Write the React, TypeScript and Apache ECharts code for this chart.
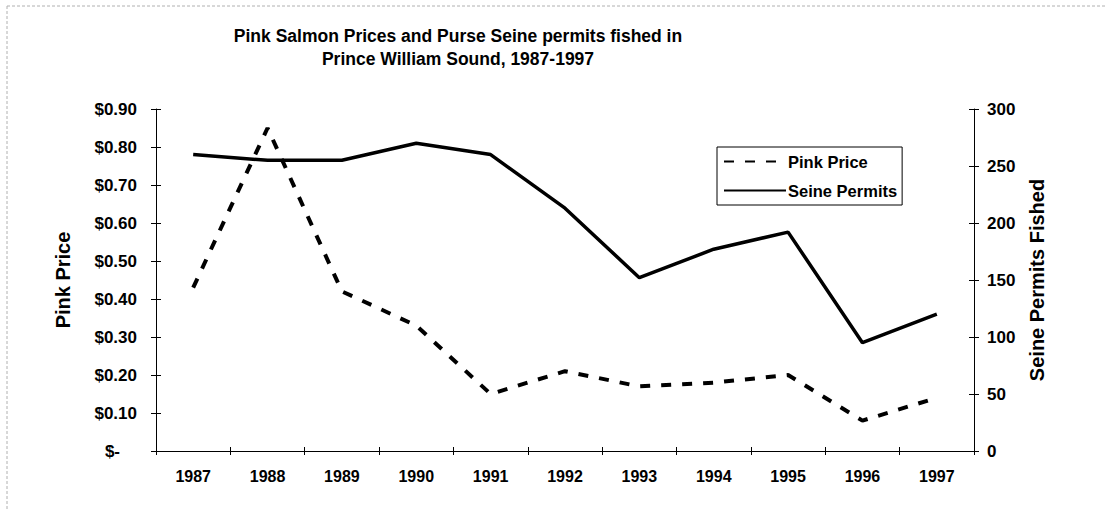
import React, { useEffect, useRef } from "react";
import * as echarts from "echarts";

const years = ["1987", "1988", "1989", "1990", "1991", "1992", "1993", "1994", "1995", "1996", "1997"];
const pinkPrice = [0.43, 0.85, 0.42, 0.33, 0.15, 0.21, 0.17, 0.18, 0.2, 0.08, 0.14];
const seinePermits = [260, 255, 255, 270, 260, 213, 152, 177, 192, 95, 120];
const titleLines = ["Pink Salmon Prices and Purse Seine permits fished in", "Prince William Sound, 1987-1997"];
const priceAxis = { min: 0, max: 0.9, interval: 0.1 };
const permitAxis = { min: 0, max: 300, interval: 50 };

const FONT = "'Liberation Sans', Arial, sans-serif";

export default function App() {
  const ref = useRef<HTMLDivElement>(null);
  useEffect(() => {
    if (!ref.current) return;
    const chart = echarts.init(ref.current, undefined, { renderer: "svg" });
    const xLabelStyle = { fontFamily: FONT, fontSize: 16, fontWeight: "bold" as const, color: "#000" };
    const yLabelStyle = { fontFamily: FONT, fontSize: 17, fontWeight: "bold" as const, color: "#000" };
    const hiddenCommon = {
      axisLine: { show: false },
      axisLabel: { show: false },
      splitLine: { show: false },
      name: "",
    };
    chart.setOption({
      animation: false,
      backgroundColor: "#fff",
      grid: { left: 156, right: 133, top: 109, bottom: 59, containLabel: false },
      graphic: [
        {
          type: "text",
          x: 458,
          y: 24,
          style: {
            text: titleLines.join("\n"),
            font: `bold 17.5px ${FONT}`,
            fill: "#000",
            textAlign: "center",
            textVerticalAlign: "top",
            lineHeight: 23,
          },
        },
        {
          type: "line",
          shape: { x1: 7, y1: 6, x2: 1107, y2: 6 },
          style: { stroke: "#b0b0b0", lineWidth: 1, lineDash: [3, 2] },
        },
        {
          type: "line",
          shape: { x1: 7, y1: 6, x2: 7, y2: 510 },
          style: { stroke: "#b0b0b0", lineWidth: 1, lineDash: [3, 2] },
        },
      ],
      legend: {
        orient: "vertical",
        left: 717,
        top: 147,
        padding: [6, 5, 6, 6],
        itemGap: 12,
        itemWidth: 62,
        itemHeight: 14,
        borderColor: "#000",
        borderWidth: 1,
        itemStyle: { color: "transparent", borderWidth: 0, opacity: 0 },
        textStyle: { ...xLabelStyle, fontSize: 16.5, padding: [0, 0, 0, -3] },
        data: ["Pink Price", "Seine Permits"],
      },
      xAxis: [
        {
          type: "category",
          data: years,
          boundaryGap: true,
          axisLine: { onZero: false, lineStyle: { color: "#000", width: 1 } },
          axisTick: { show: true, length: 4, lineStyle: { color: "#000" } },
          axisLabel: { ...xLabelStyle, margin: 17 },
          splitLine: { show: false },
        },
        {
          type: "category",
          data: years,
          position: "bottom",
          boundaryGap: true,
          axisLine: { show: false, onZero: false },
          axisTick: { show: true, inside: true, length: 4, lineStyle: { color: "#000" } },
          axisLabel: { show: false },
          splitLine: { show: false },
        },
      ],
      yAxis: [
        {
          type: "value",
          position: "left",
          ...priceAxis,
          name: "Pink Price",
          nameLocation: "middle",
          nameRotate: 90,
          nameGap: 83,
          nameTextStyle: { fontFamily: FONT, fontSize: 20, fontWeight: "bold", color: "#000" },
          axisLine: { show: true, onZero: false, lineStyle: { color: "#000", width: 1 } },
          axisTick: { show: true, length: 5, lineStyle: { color: "#000" } },
          axisLabel: {
            ...yLabelStyle,
            margin: 19,
            formatter: (v: number) => (v === 0 ? "{z|$-}" : "$" + v.toFixed(2)),
            rich: { z: { ...yLabelStyle, padding: [0, 17, 0, 0] } },
          },
          splitLine: { show: false },
        },
        {
          type: "value",
          position: "right",
          ...permitAxis,
          name: "Seine Permits Fished",
          nameLocation: "middle",
          nameRotate: 90,
          nameGap: 53,
          nameTextStyle: { fontFamily: FONT, fontSize: 20, fontWeight: "bold", color: "#000" },
          axisLine: { show: true, onZero: false, lineStyle: { color: "#000", width: 1 } },
          axisTick: { show: true, length: 5, lineStyle: { color: "#000" } },
          axisLabel: { ...yLabelStyle, margin: 13 },
          splitLine: { show: false },
        },
        {
          type: "value",
          position: "left",
          ...priceAxis,
          ...hiddenCommon,
          axisTick: { show: true, inside: true, length: 5, lineStyle: { color: "#000" } },
        },
        {
          type: "value",
          position: "right",
          ...permitAxis,
          ...hiddenCommon,
          axisTick: { show: true, inside: true, length: 5, lineStyle: { color: "#000" } },
        },
      ],
      series: [
        {
          name: "Pink Price",
          type: "line",
          xAxisIndex: 0,
          yAxisIndex: 0,
          data: pinkPrice,
          symbol: "none",
          color: "#000",
          lineStyle: { color: "#000", width: 4, type: [10, 11] },
        },
        {
          name: "Seine Permits",
          type: "line",
          xAxisIndex: 0,
          yAxisIndex: 1,
          data: seinePermits,
          symbol: "none",
          color: "#000",
          lineStyle: { color: "#000", width: 3.5, type: "solid" },
        },
      ],
    });
    return () => chart.dispose();
  }, []);
  return (
    <div
      ref={ref}
      style={{ position: "absolute", left: 0, top: 0, width: 1107, height: 510, background: "#fff" }}
    />
  );
}
